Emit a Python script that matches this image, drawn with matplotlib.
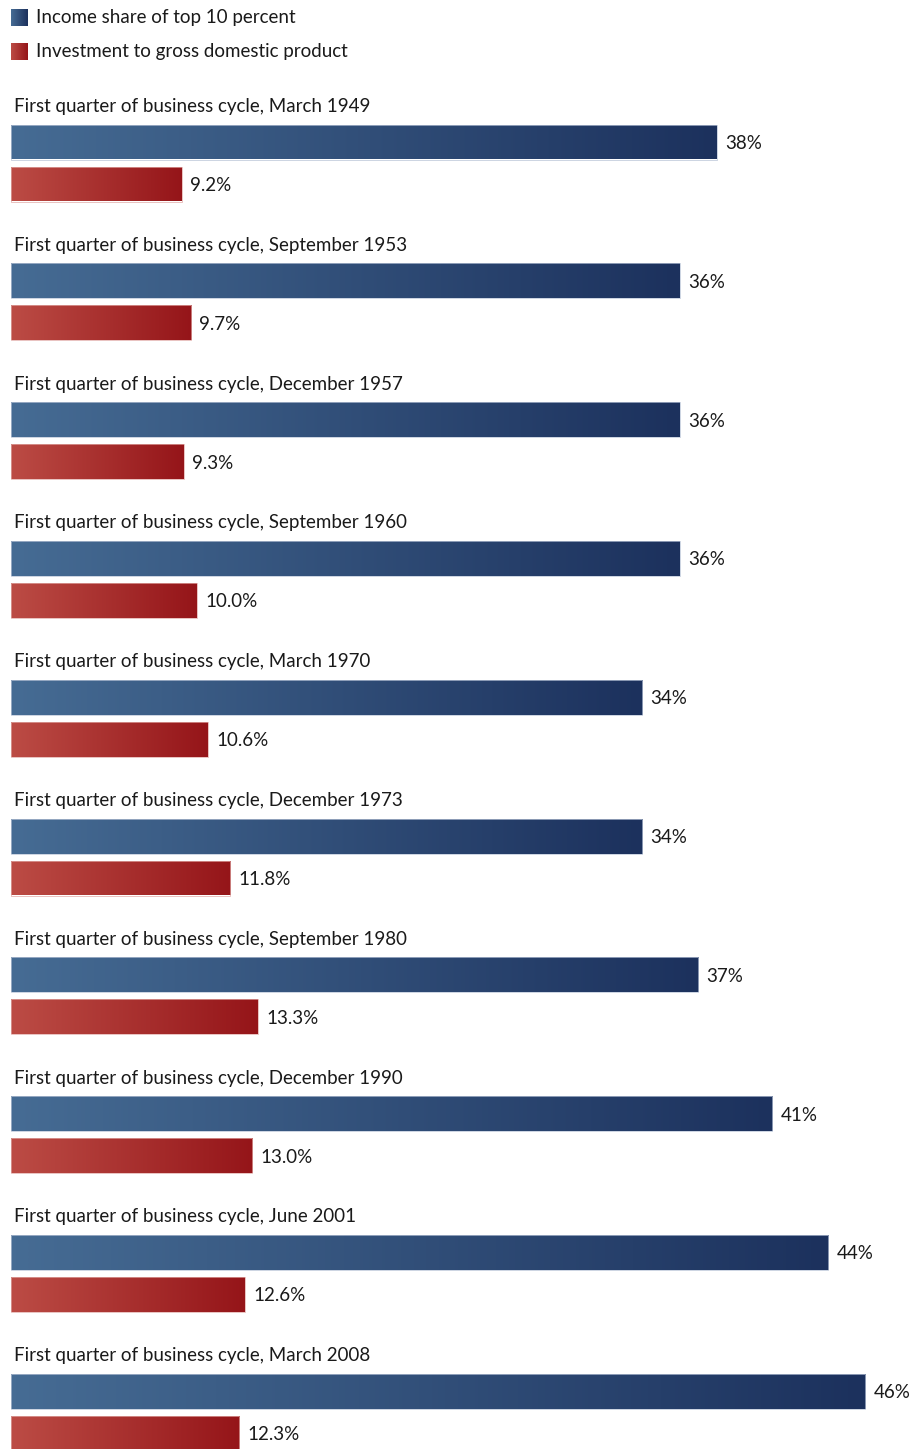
import numpy as np
import matplotlib
matplotlib.use("Agg")
import matplotlib.pyplot as plt
from matplotlib.colors import LinearSegmentedColormap

periods = ["March 1949", "September 1953", "December 1957", "September 1960",
           "March 1970", "December 1973", "September 1980", "December 1990",
           "June 2001", "March 2008"]
income_share = [38, 36, 36, 36, 34, 34, 37, 41, 44, 46]
investment_gdp = [9.2, 9.7, 9.3, 10.0, 10.6, 11.8, 13.3, 13.0, 12.6, 12.3]
series_names = ["Income share of top 10 percent", "Investment to gross domestic product"]

plt.rcParams['font.family'] = ['Lato', 'DejaVu Sans']
TEXT = '#1a1a1a'

W, H, DPI = 911, 1449, 100
fig = plt.figure(figsize=(W / DPI, H / DPI), dpi=DPI)
ax = fig.add_axes([0, 0, 1, 1])
ax.set_axis_off()

px_per_unit = 18.57
x0_px = 11
gap = 138.8

blue_cmap = LinearSegmentedColormap.from_list('b', ['#466c94', '#1c315d'])
red_cmap = LinearSegmentedColormap.from_list('r', ['#bc4c45', '#951519'])
grad = np.linspace(0, 1, 256).reshape(1, -1)

bh = 35 / gap
blue_c = 142 / gap
red_c = 184 / gap
title_base = 112 / gap

def gbar(y, v, cmap, edge):
    bars = ax.barh([y], [v], height=bh, left=0, color='none', edgecolor=edge, linewidth=0.5)
    p = bars[0]
    im = ax.imshow(grad, cmap=cmap, aspect='auto', extent=(0, v, y + bh / 2, y - bh / 2),
                   interpolation='bilinear', zorder=1)
    im.set_clip_path(p)
    p.set_zorder(2)

for i, (per, b, r) in enumerate(zip(periods, income_share, investment_gdp)):
    ax.text(0.15, i + title_base, f"First quarter of business cycle, {per}",
            fontsize=13.5, color=TEXT, va='baseline', ha='left')
    gbar(i + blue_c, b, blue_cmap, '#b8c3d6')
    gbar(i + red_c, r, red_cmap, '#e0aaa6')
    ax.annotate(f"{b:.0f}%", (b, i + blue_c + 1.5 / gap), xytext=(6, 0), textcoords='offset points',
                va='center', ha='left', fontsize=13.5, color=TEXT)
    ax.annotate(f"{r:.1f}%", (r, i + red_c + 1.5 / gap), xytext=(6, 0), textcoords='offset points',
                va='center', ha='left', fontsize=13.5, color=TEXT)

ax.set_xlim(-x0_px / px_per_unit, (W - x0_px) / px_per_unit)
ax.set_ylim(H / gap, 0)

# legend
for k, (name, cmap) in enumerate(zip(series_names, [blue_cmap, red_cmap])):
    top = 9 + 34 * k
    lax = fig.add_axes([11 / W, 1 - (top + 17) / H, 17 / W, 17 / H])
    lax.imshow(grad, cmap=cmap, aspect='auto', interpolation='bilinear')
    lax.set_axis_off()
    fig.text(36 / W, 1 - (top + 9) / H, name, fontsize=13.5, color=TEXT, va='center', ha='left')

fig.savefig("out.png", dpi=DPI)
